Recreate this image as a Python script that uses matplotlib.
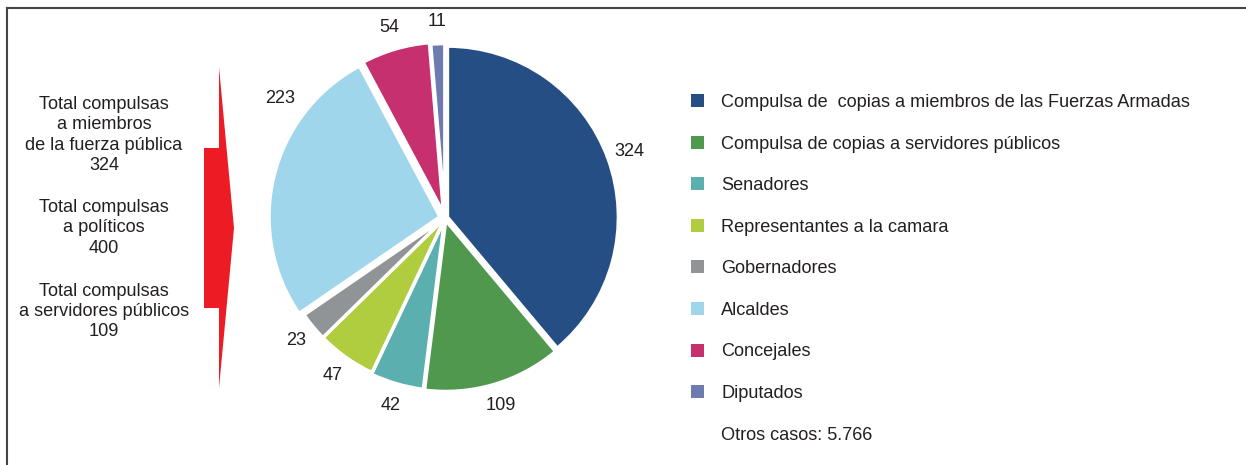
import numpy as np
import matplotlib.pyplot as plt
from matplotlib.patches import Polygon, Patch
from matplotlib.lines import Line2D

plt.rcParams['font.family'] = ['Liberation Sans', 'DejaVu Sans']

categories = ['Compulsa de  copias a miembros de las Fuerzas Armadas',
              'Compulsa de copias a servidores públicos',
              'Senadores', 'Representantes a la camara', 'Gobernadores',
              'Alcaldes', 'Concejales', 'Diputados']
values = [324, 109, 42, 47, 23, 223, 54, 11]
colors = ['#254e85', '#50984e', '#5bafaf', '#afcd3e', '#919496',
          '#9fd6ec', '#c6306e', '#6e7baf']
otros = 'Otros casos: 5.766'

total_fuerza = values[0]
total_servidores = values[1]
total_politicos = sum(values[2:])

W, H = 1246, 465
fig = plt.figure(figsize=(W / 100, H / 100), dpi=100)
txt = '#231f20'
fs = 13.1

# frame lines (top and left only)
fig.add_artist(Line2D([7 / W, 7 / W], [0, 1 - 8 / H], color='#444444', lw=1.5))
fig.add_artist(Line2D([7 / W, 1], [1 - 8 / H, 1 - 8 / H], color='#444444', lw=1.5))

# red arrow
pts = [(204, 148), (219, 148), (219, 67), (234, 228), (219, 388), (219, 308), (204, 308)]
fig.add_artist(Polygon([(x / W, 1 - y / H) for x, y in pts], closed=True,
                       facecolor='#ed1c24', edgecolor='none', transform=fig.transFigure))

# left summary text
blocks = [('Total compulsas\na miembros\nde la fuerza pública\n%d' % total_fuerza, 135),
          ('Total compulsas\na políticos\n%d' % total_politicos, 228),
          ('Total compulsas\na servidores públicos\n%d' % total_servidores, 311.5)]
for s, yc in blocks:
    fig.text(104 / W, 1 - yc / H, s, ha='center', va='center', fontsize=fs,
             color=txt, linespacing=1.25)

# pie
cx, cy, r = 445, 218, 171
side = 440
ax = fig.add_axes([(cx - side / 2) / W, (H - cy - side / 2) / H, side / W, side / H])
lim = side / 2 / r
explode = [0.015, 0.015, 0.01, 0.0, 0.0, 0.03, 0.03, 0.02]
wedges, texts = ax.pie(values, colors=colors, startangle=90, counterclock=False,
                       explode=explode, labels=[str(v) for v in values],
                       labeldistance=1.13,
                       wedgeprops=dict(edgecolor='white', linewidth=2.5),
                       textprops=dict(fontsize=fs, color=txt))
for t in texts:
    t.set_ha('center')
    t.set_va('center')
# the "Alcaldes" label sits higher up on the rim, clear of the arrow
ang = np.deg2rad(144)
texts[5].set_position((1.19 * np.cos(ang), 1.19 * np.sin(ang)))

ax.set_xlim(-lim, lim)
ax.set_ylim(-lim, lim)
ax.set_aspect('equal')
ax.axis('off')

# legend
handles = [Patch(facecolor=c, edgecolor='none') for c in colors]
handles.append(Patch(facecolor='none', edgecolor='none'))
leg = fig.legend(handles, categories + [otros], loc='upper left',
                 bbox_to_anchor=(691 / W, 1 - 94 / H), frameon=False,
                 fontsize=fs, labelspacing=1.35, handlelength=0.72,
                 handleheight=0.72, handletextpad=0.94, borderpad=0,
                 borderaxespad=0)
for t in leg.get_texts():
    t.set_color(txt)

fig.savefig('out.png', dpi=100)
